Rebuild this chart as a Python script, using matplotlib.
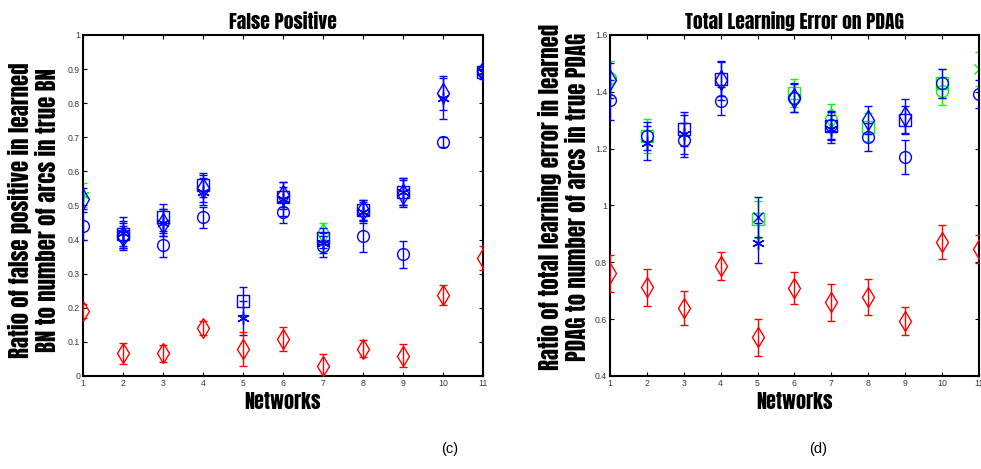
import numpy as np
import matplotlib
matplotlib.use("Agg")
import matplotlib.pyplot as plt

nan = np.nan
networks = np.arange(1, 12)

# ---- (c) false positive ratio ----
fp_circle = [0.44, 0.41, 0.385, 0.465, nan, 0.48, 0.38, 0.41, 0.357, 0.686, 0.895]
fp_circle_err = [0.04, 0.03, 0.035, 0.03, nan, 0.03, 0.03, 0.045, 0.04, 0.015, 0.01]
fp_diamond = [0.52, 0.41, 0.45, 0.55, nan, 0.53, nan, 0.487, 0.535, 0.83, 0.895]
fp_diamond_err = [0.03, 0.04, 0.04, 0.04, nan, 0.04, nan, 0.03, 0.04, 0.05, 0.015]
fp_square = [nan, 0.415, 0.465, 0.56, 0.22, 0.525, 0.405, 0.487, 0.54, nan, 0.89]
fp_square_err = [nan, 0.04, 0.04, 0.035, 0.04, 0.03, 0.03, 0.03, 0.04, nan, 0.015]
fp_star = [nan, 0.42, 0.45, 0.54, 0.17, 0.52, 0.39, 0.48, 0.54, 0.815, 0.89]
fp_star_err = [nan, 0.045, 0.04, 0.04, 0.05, 0.05, 0.03, 0.03, 0.04, 0.06, 0.02]
fp_red = [0.19, 0.066, 0.066, 0.14, 0.08, 0.108, 0.03, 0.08, 0.06, 0.237, 0.346]
fp_red_err = [0.02, 0.03, 0.025, 0.02, 0.05, 0.035, 0.035, 0.025, 0.035, 0.03, 0.035]
fp_green_x = [1, 7]
fp_green = [0.53, 0.42]
fp_green_err = [0.035, 0.03]
fp_green_mk = ['star', 'd']

# ---- (d) total learning error ----
te_circle = [1.371, 1.245, 1.23, 1.368, nan, 1.378, 1.283, 1.241, 1.17, 1.43, 1.392]
te_circle_err = [0.07, 0.05, 0.06, 0.05, nan, 0.05, 0.05, 0.05, 0.06, 0.05, 0.05]
te_diamond = [1.44, nan, nan, 1.44, nan, 1.38, nan, 1.30, 1.315, nan, nan]
te_diamond_err = [0.06, nan, nan, 0.07, nan, 0.05, nan, 0.05, 0.06, nan, nan]
te_square = [nan, nan, 1.27, 1.445, nan, nan, 1.28, nan, 1.30, nan, nan]
te_square_err = [nan, nan, 0.06, 0.06, nan, nan, 0.05, nan, 0.05, nan, nan]
te_star = [nan, 1.22, 1.25, nan, 0.868, nan, 1.27, nan, nan, nan, nan]
te_star_err = [nan, 0.06, 0.07, nan, 0.07, nan, 0.05, nan, nan, nan, nan]
te_xmark = [nan, nan, nan, nan, 0.96, nan, nan, nan, nan, nan, nan]
te_xmark_err = [nan, nan, nan, nan, 0.07, nan, nan, nan, nan, nan, nan]
te_red = [0.762, 0.713, 0.639, 0.787, 0.537, 0.71, 0.66, 0.678, 0.594, 0.872, 0.847]
te_red_err = [0.065, 0.065, 0.06, 0.05, 0.065, 0.055, 0.065, 0.065, 0.05, 0.06, 0.05]
te_green_x = [1, 2, 5, 6, 7, 8, 10, 10, 11]
te_green = [1.449, 1.245, 0.952, 1.396, 1.308, 1.276, 1.403, 1.43, 1.48]
te_green_err = [0.06, 0.06, 0.065, 0.05, 0.05, 0.05, 0.05, 0.05, 0.06]
te_green_mk = ['o', 's', 's', 's', 'd', 's', 'o', 's', 'x']

xticks = list(range(1, 12))

# heavy condensed face for titles and axis labels
HEAVY = ['Anton', 'Oswald', 'League Gothic', 'DejaVu Sans']
THIN = ['Liberation Sans', 'DejaVu Sans']

STAR = (6, 2, 0)
BLUE, RED, GREEN = '#0000ff', '#ff0000', '#00ff00'
SIZES = {'o': 8.5, 'd': 10.5, 's': 9, 'star': 9, 'x': 7}


def errs(ax, x, y, e, mk, color, z=3):
    ax.errorbar(x, y, yerr=e, fmt='', linestyle='none',
                marker=STAR if mk == 'star' else mk,
                mfc='none', mec=color, ecolor=color, color=color, ms=SIZES[mk],
                mew=1.0, elinewidth=1.0, capsize=3, capthick=1.0, zorder=z)


def style(ax, ylim, yticks, ylabels, title, ylabel, label_xy):
    ax.set_xlim(1, 11)
    ax.set_ylim(*ylim)
    ax.set_xticks(xticks)
    ax.set_xticklabels([str(t) for t in xticks])
    ax.set_yticks(yticks)
    ax.set_yticklabels(ylabels)
    ax.tick_params(direction='in', length=3, width=0.8, labelsize=6.3,
                   labelcolor='#3a3a3a', top=True, right=True, pad=2)
    for lab in ax.get_xticklabels() + ax.get_yticklabels():
        lab.set_family(THIN)
    for s in ax.spines.values():
        s.set_linewidth(1.5)
    ax.set_title(title, family=HEAVY, fontsize=14, pad=4)
    ax.set_xlabel('Networks', family=HEAVY, fontsize=14.5, labelpad=3)
    ax.set_ylabel(ylabel, family=HEAVY, fontsize=16.5, linespacing=1.2)
    ax.yaxis.set_label_coords(*label_xy)


fig = plt.figure(figsize=(9.81, 4.69), dpi=100)
ax1 = fig.add_axes([0.0846, 0.1983, 0.4077, 0.7271])
ax2 = fig.add_axes([0.6218, 0.1983, 0.3761, 0.7271])

errs(ax1, networks, fp_circle, fp_circle_err, 'o', BLUE)
errs(ax1, networks, fp_diamond, fp_diamond_err, 'd', BLUE)
errs(ax1, networks, fp_square, fp_square_err, 's', BLUE)
errs(ax1, networks, fp_star, fp_star_err, 'star', BLUE)
errs(ax1, networks, fp_red, fp_red_err, 'd', RED)
for x, y, e, m in zip(fp_green_x, fp_green, fp_green_err, fp_green_mk):
    errs(ax1, [x], [y], [e], m, GREEN, z=2)

errs(ax2, networks, te_circle, te_circle_err, 'o', BLUE)
errs(ax2, networks, te_diamond, te_diamond_err, 'd', BLUE)
errs(ax2, networks, te_square, te_square_err, 's', BLUE)
errs(ax2, networks, te_star, te_star_err, 'star', BLUE)
errs(ax2, networks, te_xmark, te_xmark_err, 'x', BLUE)
errs(ax2, networks, te_red, te_red_err, 'd', RED)
for x, y, e, m in zip(te_green_x, te_green, te_green_err, te_green_mk):
    errs(ax2, [x], [y], [e], m, GREEN, z=2)

fp_ticks = np.round(np.arange(0, 1.01, 0.1), 1)
style(ax1, (0, 1), fp_ticks, ['0'] + ['%g' % t for t in fp_ticks[1:-1]] + ['1'],
      'False Positive',
      'Ratio of false positive in learned\nBN to number of arcs in true BN',
      (-0.06, 0.487))
te_ticks = [0.4, 0.6, 0.8, 1.0, 1.2, 1.4, 1.6]
style(ax2, (0.4, 1.6), te_ticks, ['0.4', '0.6', '0.8', '1', '1.2', '1.4', '1.6'],
      'Total Learning Error on PDAG',
      'Ratio of total learning error in learned\nPDAG to number of arcs in true PDAG',
      (-0.058, 0.525))

fig.text(0.4587, 0.043, '(c)', ha='center', va='center', fontsize=10.5, family=THIN)
fig.text(0.8338, 0.043, '(d)', ha='center', va='center', fontsize=10.5, family=THIN)

fig.savefig('out.png', dpi=100)
